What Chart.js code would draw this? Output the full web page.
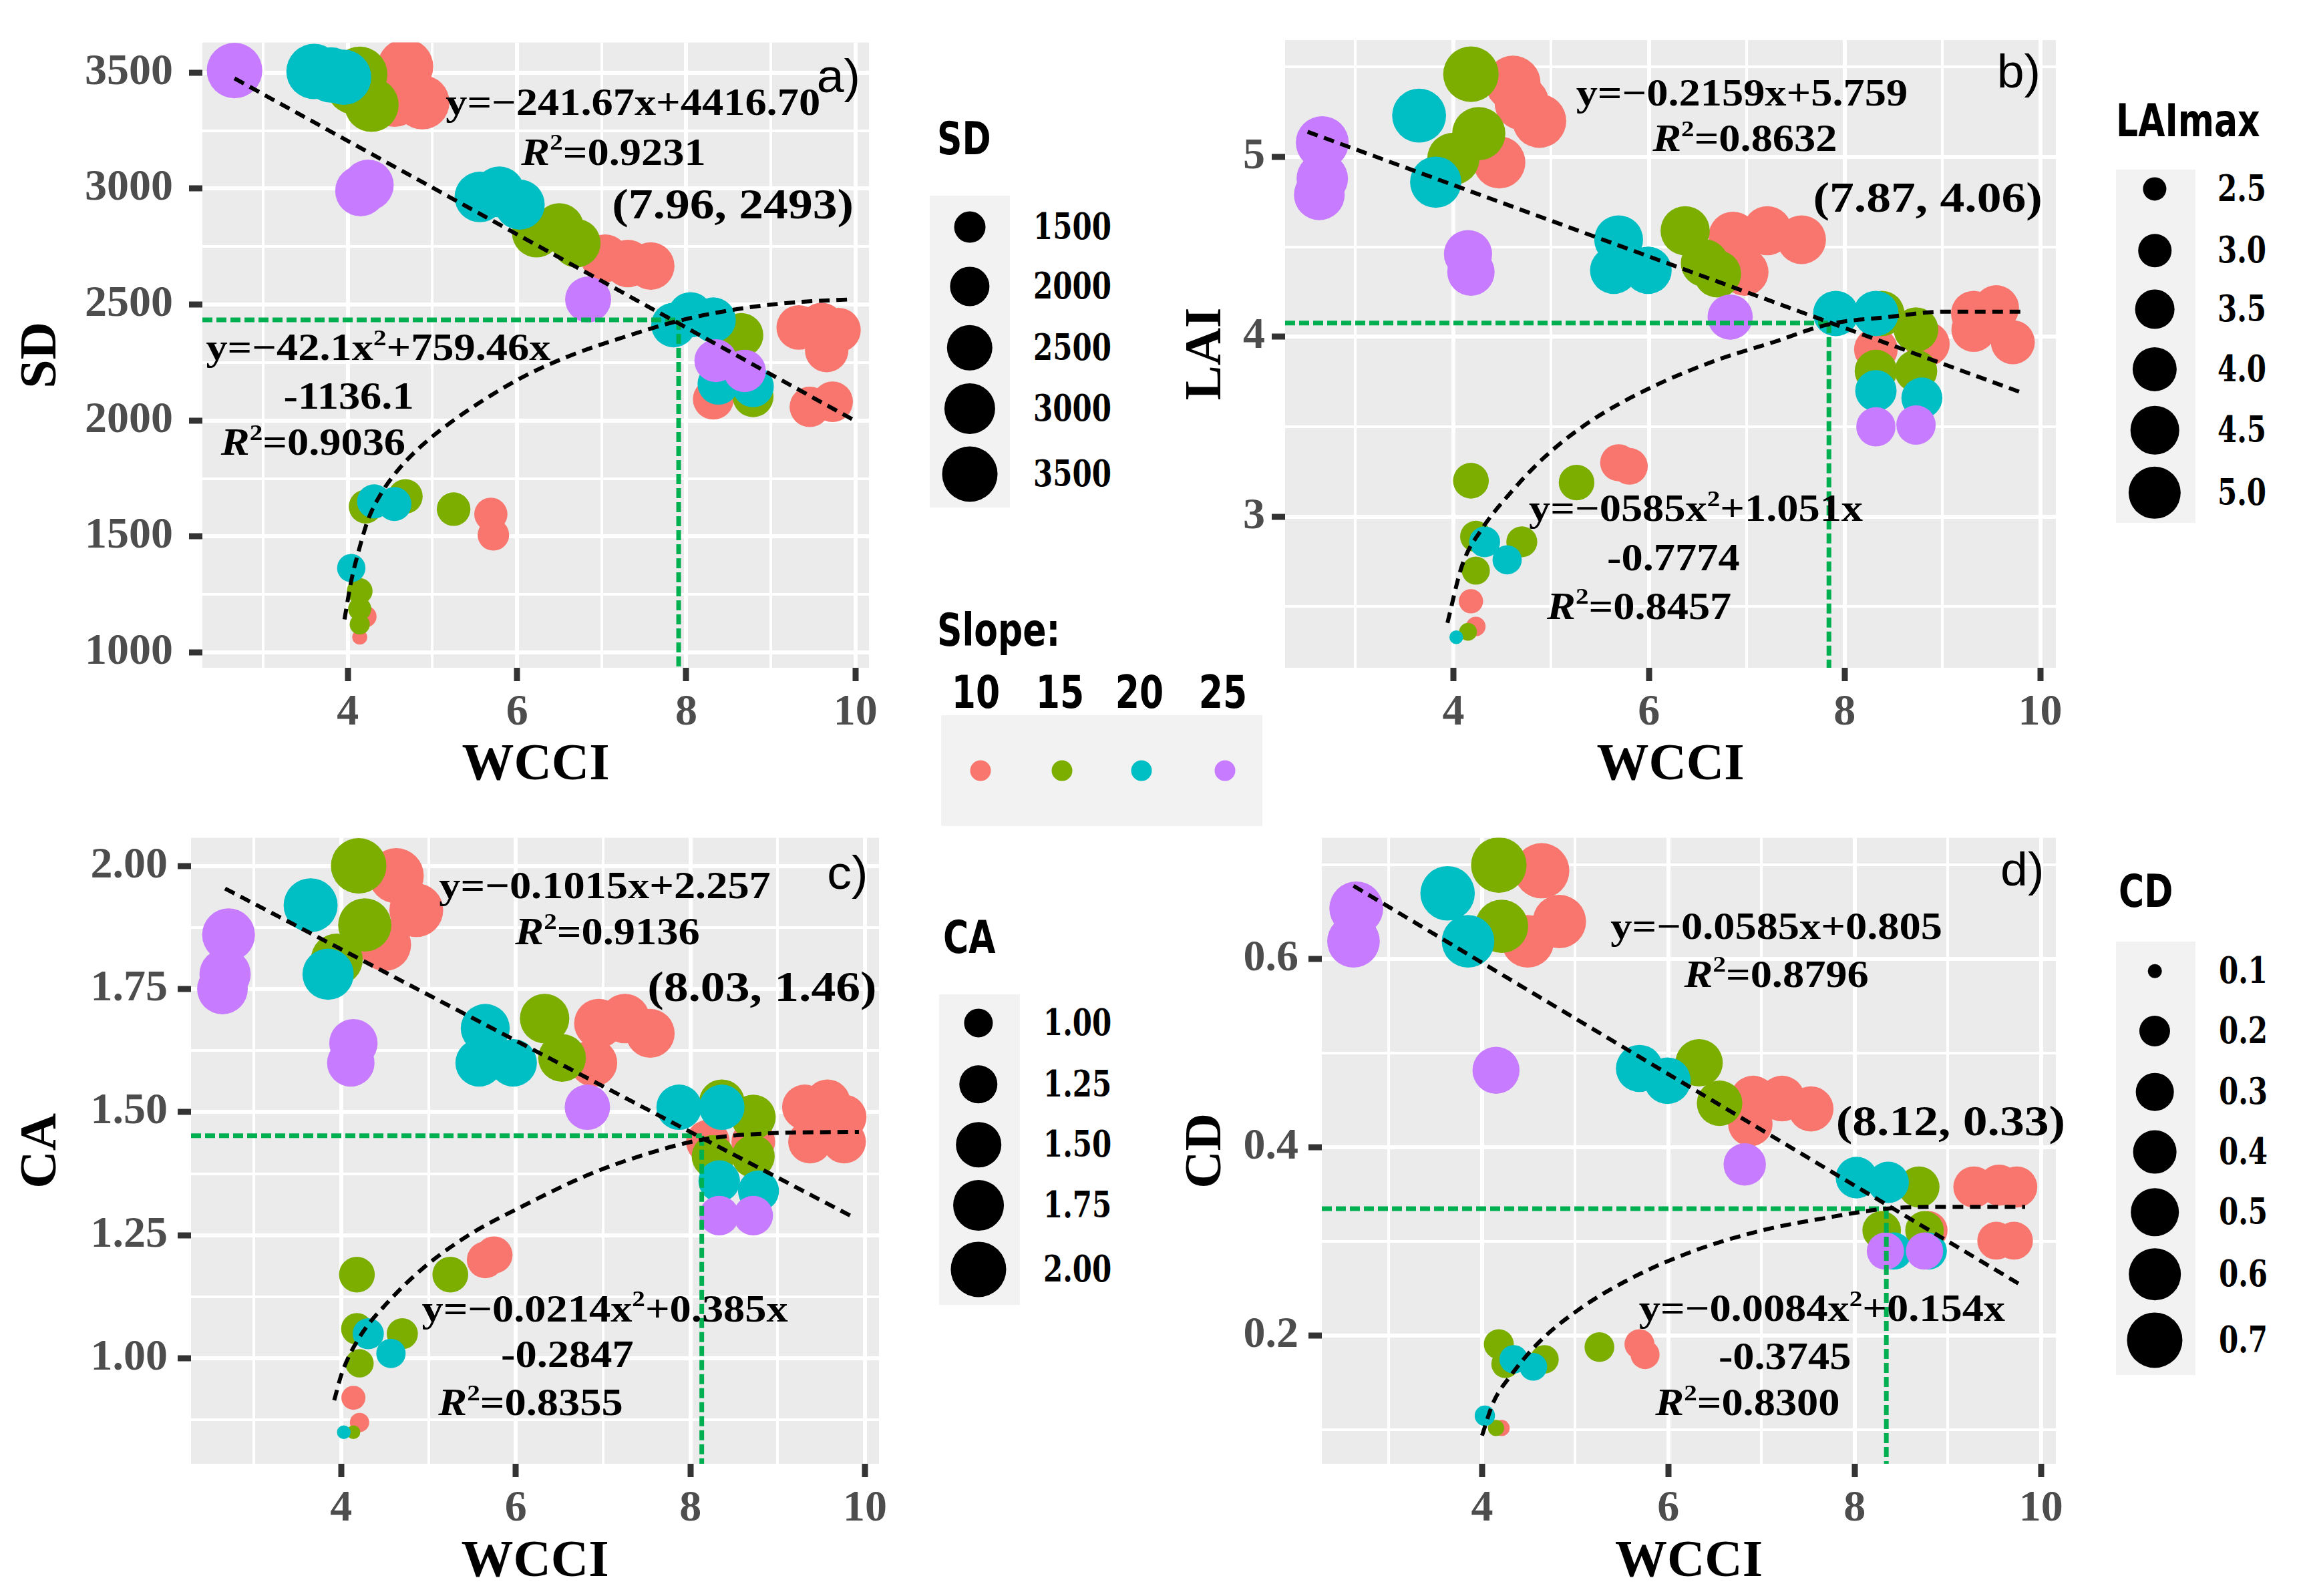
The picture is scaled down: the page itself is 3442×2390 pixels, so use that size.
<!DOCTYPE html>
<html>
<head>
<meta charset="utf-8">
<script src="https://cdn.jsdelivr.net/npm/chart.js@4.4.0/dist/chart.umd.min.js"></script>
<style>
  html, body { margin: 0; padding: 0; background: #fff; overflow: hidden; }
  #page { position: relative; width: 3442px; height: 2390px; overflow: hidden; background: #fff; }
  canvas { position: absolute; }
  .key { position: absolute; background: #F2F2F2; z-index: 4; }
  .dot { position: absolute; border-radius: 50%; z-index: 6; transform: translate(-50%, -50%); }
  .txt { position: absolute; z-index: 6; white-space: nowrap; line-height: 1; color: #000; font-weight: bold; }
  .ttl { font-family: 'DejaVu Sans'; font-size: 52px; }
  .lab { font-family: 'DejaVu Serif'; font-size: 42px; }
</style>
</head>
<body>
<div id="page">
  <canvas id="pa" width="1330" height="1200" style="left:0px;top:0px"></canvas>
  <canvas id="pb" width="1390" height="1200" style="left:1740px;top:0px"></canvas>
  <canvas id="pc" width="1340" height="1190" style="left:0px;top:1200px"></canvas>
  <canvas id="pd" width="1390" height="1190" style="left:1740px;top:1200px"></canvas>
</div>
<script>
// slope groups
const SLOPE_LABELS = ['10', '15', '20', '25'];
const SLOPE_COLORS = ['#F8766D', '#7CAE00', '#00BFC4', '#C77CFF'];

// x axis (WCCI), shared by all panels
const WCCI_MAJOR = [4, 6, 8, 10];
const WCCI_MINOR = [3, 5, 7, 9];
const WCCI_LABELS = ['4', '6', '8', '10'];

// a) SD
const sdX10 = [4.68, 4.88, 4.55, 7.04, 7.31, 7.58, 9.33, 9.60, 9.80, 9.66, 8.32, 9.46, 9.73, 5.69, 5.72, 4.21, 4.14];
const sdY10 = [3526, 3372, 3383, 2699, 2677, 2666, 2401, 2412, 2390, 2302, 2092, 2059, 2081, 1596, 1507, 1155, 1066];
const sdX15 = [4.07, 4.14, 4.28, 6.23, 6.50, 6.70, 8.65, 8.79, 4.21, 4.68, 5.25, 4.14, 4.14, 4.14];
const sdY15 = [3438, 3493, 3361, 2809, 2831, 2765, 2368, 2103, 1629, 1673, 1618, 1265, 1188, 1121];
const sdX20 = [3.60, 3.80, 3.95, 5.56, 5.79, 6.03, 7.85, 8.05, 8.32, 8.38, 8.79, 4.31, 4.55, 4.04];
const sdY20 = [3505, 3490, 3480, 2964, 2986, 2931, 2412, 2456, 2434, 2158, 2147, 1651, 1640, 1364];
const sdX25 = [2.66, 4.15, 4.24, 6.84, 8.35, 8.69];
const sdY25 = [3509, 2990, 3015, 2522, 2258, 2214];
const sdLineX = [2.66, 9.97];
const sdLineY = [3475, 2004];
const sdCurveX = [3.96, 4.04, 4.13, 4.24, 4.41, 4.61, 4.88, 5.22, 5.62, 6.09, 6.63, 7.24, 7.91, 8.65, 9.33, 9.93];
const sdCurveY = [1143, 1309, 1441, 1574, 1695, 1794, 1894, 1993, 2092, 2192, 2280, 2357, 2430, 2483, 2511, 2522];
const sdCross = [7.91, 2434];
const SD_MAJOR = [1000, 1500, 2000, 2500, 3000, 3500];
const SD_MINOR = [1250, 1750, 2250, 2750, 3250];
const SD_LABELS = ['1000', '1500', '2000', '2500', '3000', '3500'];
const SD_KEYS = [1500, 2000, 2500, 3000, 3500];
const SD_KEY_LABELS = ['1500', '2000', '2500', '3000', '3500'];

// b) LAI
const laiX10 = [4.61, 4.88, 4.47, 4.70, 6.86, 7.21, 7.56, 6.98, 9.32, 9.55, 9.72, 9.32, 8.32, 8.85, 5.69, 5.80, 4.18, 4.23];
const laiY10 = [5.41, 5.20, 4.97, 5.30, 4.56, 4.59, 4.54, 4.36, 4.13, 4.16, 3.97, 4.04, 3.93, 3.96, 3.30, 3.28, 2.53, 2.39];
const laiX15 = [4.18, 4.26, 4.00, 6.37, 6.57, 6.70, 8.38, 8.73, 8.32, 8.73, 4.18, 5.26, 4.23, 4.70, 4.23, 4.15];
const laiY15 = [5.46, 5.13, 4.99, 4.59, 4.41, 4.35, 4.13, 4.04, 3.81, 3.81, 3.20, 3.19, 2.89, 2.86, 2.70, 2.36];
const laiX20 = [3.65, 3.82, 5.69, 5.64, 5.99, 7.91, 8.32, 8.32, 8.79, 4.32, 4.55, 4.03];
const laiY20 = [5.23, 4.86, 4.54, 4.37, 4.37, 4.13, 4.13, 3.70, 3.66, 2.86, 2.76, 2.33];
const laiX25 = [2.66, 2.66, 2.63, 4.15, 4.18, 6.83, 8.32, 8.73];
const laiY25 = [5.08, 4.88, 4.79, 4.46, 4.36, 4.11, 3.50, 3.51];
const laiLineX = [2.51, 9.81];
const laiLineY = [5.14, 3.69];
const laiCurveX = [3.94, 4.09, 4.29, 4.58, 4.93, 5.40, 5.99, 6.69, 7.27, 7.84, 8.44, 9.02, 9.84];
const laiCurveY = [2.41, 2.73, 2.93, 3.13, 3.33, 3.53, 3.71, 3.87, 3.97, 4.07, 4.11, 4.14, 4.14];
const laiCross = [7.84, 4.077];
const LAI_MAJOR = [3, 4, 5];
const LAI_MINOR = [2.5, 3.5, 4.5, 5.5];
const LAI_LABELS = ['3', '4', '5'];
const LAI_KEYS = [2.5, 3.0, 3.5, 4.0, 4.5, 5.0];
const LAI_KEY_LABELS = ['2.5', '3.0', '3.5', '4.0', '4.5', '5.0'];

// c) CA
const caX10 = [4.63, 4.86, 4.50, 6.95, 7.25, 7.54, 6.89, 9.31, 9.57, 9.76, 9.76, 9.37, 8.20, 8.72, 5.75, 5.65, 4.14, 4.21];
const caY10 = [1.98, 1.91, 1.84, 1.68, 1.69, 1.66, 1.60, 1.51, 1.52, 1.49, 1.44, 1.44, 1.44, 1.44, 1.21, 1.20, 0.92, 0.87];
const caX15 = [4.20, 4.27, 3.95, 6.33, 6.53, 8.36, 8.72, 8.26, 8.72, 4.18, 5.25, 4.18, 4.70, 4.21, 4.14];
const caY15 = [2.00, 1.88, 1.81, 1.69, 1.61, 1.52, 1.49, 1.41, 1.41, 1.17, 1.17, 1.06, 1.05, 0.99, 0.85];
const caX20 = [3.65, 3.85, 5.65, 5.58, 5.97, 7.87, 8.36, 8.33, 8.78, 4.31, 4.57, 4.03];
const caY20 = [1.92, 1.78, 1.67, 1.60, 1.60, 1.51, 1.51, 1.36, 1.34, 1.05, 1.01, 0.85];
const caX25 = [2.71, 2.67, 2.64, 4.14, 4.11, 6.82, 8.33, 8.72];
const caY25 = [1.86, 1.78, 1.75, 1.64, 1.60, 1.51, 1.29, 1.29];
const caLineX = [2.67, 9.83];
const caLineY = [1.954, 1.29];
const caCurveX = [3.92, 4.01, 4.21, 4.54, 4.93, 5.45, 6.10, 6.82, 7.48, 8.13, 8.92, 9.93];
const caCurveY = [0.915, 0.971, 1.043, 1.115, 1.182, 1.249, 1.311, 1.372, 1.414, 1.444, 1.457, 1.460];
const caCross = [8.13, 1.452];
const CA_MAJOR = [1.00, 1.25, 1.50, 1.75, 2.00];
const CA_MINOR = [0.875, 1.125, 1.375, 1.625, 1.875];
const CA_LABELS = ['1.00', '1.25', '1.50', '1.75', '2.00'];
const CA_KEYS = [1.00, 1.25, 1.50, 1.75, 2.00];
const CA_KEY_LABELS = ['1.00', '1.25', '1.50', '1.75', '2.00'];

// d) CD
const cdX10 = [4.64, 4.83, 4.49, 6.91, 7.22, 7.53, 6.88, 9.28, 9.55, 9.74, 9.52, 9.71, 8.79, 5.69, 5.75, 4.21];
const cdY10 = [0.694, 0.640, 0.619, 0.452, 0.452, 0.441, 0.425, 0.358, 0.360, 0.358, 0.301, 0.301, 0.312, 0.191, 0.180, 0.102];
const cdX15 = [4.18, 4.21, 6.33, 6.55, 8.69, 8.29, 8.75, 4.18, 5.26, 4.67, 4.25, 4.15];
const cdY15 = [0.700, 0.635, 0.490, 0.447, 0.358, 0.312, 0.312, 0.191, 0.188, 0.175, 0.170, 0.102];
const cdX20 = [3.63, 3.85, 5.69, 5.99, 8.02, 8.36, 8.42, 8.79, 4.34, 4.55, 4.03];
const cdY20 = [0.670, 0.619, 0.484, 0.471, 0.368, 0.363, 0.290, 0.290, 0.175, 0.167, 0.115];
const cdX25 = [2.65, 2.62, 4.15, 6.82, 8.33, 8.75];
const cdY25 = [0.654, 0.619, 0.482, 0.382, 0.290, 0.290];
const cdLineX = [2.62, 9.80];
const cdLineY = [0.678, 0.253];
const cdCurveX = [4.00, 4.12, 4.31, 4.61, 5.04, 5.60, 6.27, 7.01, 7.68, 8.34, 8.97, 9.83];
const cdCurveY = [0.094, 0.129, 0.158, 0.193, 0.228, 0.261, 0.290, 0.312, 0.325, 0.335, 0.337, 0.337];
const cdCross = [8.34, 0.335];
const CD_MAJOR = [0.2, 0.4, 0.6];
const CD_MINOR = [0.1, 0.3, 0.5, 0.7];
const CD_LABELS = ['0.2', '0.4', '0.6'];
const CD_KEYS = [0.1, 0.2, 0.3, 0.4, 0.5, 0.6, 0.7];
const CD_KEY_LABELS = ['0.1', '0.2', '0.3', '0.4', '0.5', '0.6', '0.7'];

// size scale like ggplot's area scale: diameter in px
function diam(v, range) {
  const t = Math.max(0, (v - range[0]) / (range[1] - range[0]));
  return 20.6 + 62.5 * Math.sqrt(t);
}

const NOTE_FONTS = {
  eq:  { family: '"Liberation Serif"', weight: 'bold', size: 56, stretch: 1.15 },
  pt:  { family: '"Liberation Serif"', weight: 'bold', size: 64, stretch: 1.15 },
  tag: { family: '"Liberation Sans"', weight: 'normal', size: 70, stretch: 1.05 }
};

const PANELS = [
  { id: 'pa', pad: { top: 60, right: 29 }, yw: 303, xh: 200, tickPad: 24, yTitlePad: 16, xTitlePad: 6,
    ymin: 934, ymax: 3630, yTitle: 'SD', yMajor: SD_MAJOR, yMinor: SD_MINOR, yLabels: SD_LABELS,
    xs: [sdX10, sdX15, sdX20, sdX25], ys: [sdY10, sdY15, sdY20, sdY25], size: [1064, 3510],
    lineX: sdLineX, lineY: sdLineY, curveX: sdCurveX, curveY: sdCurveY, cross: sdCross,
    notes: [
      { text: 'y=−241.67x+4416.70', x: 7.37, y: 3361, kind: 'eq' },
      { text: 'R^2=0.9231', x: 7.14, y: 3145, kind: 'eq' },
      { text: '(7.96, 2493)', x: 8.55, y: 2920, kind: 'pt' },
      { text: 'a)', x: 9.80, y: 3471, kind: 'tag' },
      { text: 'y=−42.1x^2+759.46x', x: 4.36, y: 2302, kind: 'eq' },
      { text: '-1136.1', x: 4.01, y: 2092, kind: 'eq' },
      { text: 'R^2=0.9036', x: 3.59, y: 1894, kind: 'eq' }
    ] },
  { id: 'pb', pad: { top: 60, right: 52 }, yw: 184, xh: 200, tickPad: 10, yTitlePad: 20, xTitlePad: 6,
    ymin: 2.16, ymax: 5.65, yTitle: 'LAI', yMajor: LAI_MAJOR, yMinor: LAI_MINOR, yLabels: LAI_LABELS,
    xs: [laiX10, laiX15, laiX20, laiX25], ys: [laiY10, laiY15, laiY20, laiY25], size: [2.33, 5.46],
    lineX: laiLineX, lineY: laiLineY, curveX: laiCurveX, curveY: laiCurveY, cross: laiCross,
    notes: [
      { text: 'y=−0.2159x+5.759', x: 6.95, y: 5.34, kind: 'eq' },
      { text: 'R^2=0.8632', x: 6.98, y: 5.086, kind: 'eq' },
      { text: '(7.87, 4.06)', x: 8.85, y: 4.757, kind: 'pt' },
      { text: 'b)', x: 9.78, y: 5.457, kind: 'tag' },
      { text: 'y=−0585x^2+1.051x', x: 6.48, y: 3.03, kind: 'eq' },
      { text: '-0.7774', x: 6.25, y: 2.757, kind: 'eq' },
      { text: 'R^2=0.8457', x: 5.90, y: 2.486, kind: 'eq' }
    ] },
  { id: 'pc', pad: { top: 50, right: 24 }, yw: 286, xh: 198, tickPad: 15, yTitlePad: 16, xTitlePad: 3,
    ymin: 0.786, ymax: 2.057, yTitle: 'CA', yMajor: CA_MAJOR, yMinor: CA_MINOR, yLabels: CA_LABELS,
    xs: [caX10, caX15, caX20, caX25], ys: [caY10, caY15, caY20, caY25], size: [0.85, 2.00],
    lineX: caLineX, lineY: caLineY, curveX: caCurveX, curveY: caCurveY, cross: caCross,
    notes: [
      { text: 'y=−0.1015x+2.257', x: 7.02, y: 1.954, kind: 'eq' },
      { text: 'R^2=0.9136', x: 7.05, y: 1.861, kind: 'eq' },
      { text: '(8.03, 1.46)', x: 8.82, y: 1.748, kind: 'pt' },
      { text: 'c)', x: 9.80, y: 1.979, kind: 'tag' },
      { text: 'y=−0.0214x^2+0.385x', x: 7.02, y: 1.095, kind: 'eq' },
      { text: '-0.2847', x: 6.59, y: 1.002, kind: 'eq' },
      { text: 'R^2=0.8355', x: 6.17, y: 0.904, kind: 'eq' }
    ] },
  { id: 'pd', pad: { top: 50, right: 52 }, yw: 239, xh: 198, tickPad: 15, yTitlePad: 20, xTitlePad: 3,
    ymin: 0.064, ymax: 0.729, yTitle: 'CD', yMajor: CD_MAJOR, yMinor: CD_MINOR, yLabels: CD_LABELS,
    xs: [cdX10, cdX15, cdX20, cdX25], ys: [cdY10, cdY15, cdY20, cdY25], size: [0.10, 0.70],
    lineX: cdLineX, lineY: cdLineY, curveX: cdCurveX, curveY: cdCurveY, cross: cdCross,
    notes: [
      { text: 'y=−0.0585x+0.805', x: 7.16, y: 0.632, kind: 'eq' },
      { text: 'R^2=0.8796', x: 7.16, y: 0.581, kind: 'eq' },
      { text: '(8.12, 0.33)', x: 9.03, y: 0.425, kind: 'pt' },
      { text: 'd)', x: 9.80, y: 0.692, kind: 'tag' },
      { text: 'y=−0.0084x^2+0.154x', x: 7.65, y: 0.226, kind: 'eq' },
      { text: '-0.3745', x: 7.25, y: 0.175, kind: 'eq' },
      { text: 'R^2=0.8300', x: 6.85, y: 0.126, kind: 'eq' }
    ] }
];

// '^' makes the next char a superscript, 'R' is set in italics
function drawRich(ctx, text, cx, cy, f) {
  const segs = [];
  for (let i = 0; i < text.length; i++) {
    const ch = text[i];
    if (ch === '^') { segs.push({ t: text[++i], sup: true, it: false }); continue; }
    const it = ch === 'R';
    const last = segs[segs.length - 1];
    if (last && !last.sup && last.it === it) last.t += ch;
    else segs.push({ t: ch, it: it, sup: false });
  }
  const fontOf = s => (s.it ? 'italic ' : '') + f.weight + ' ' + (s.sup ? Math.round(f.size * 0.6) : f.size) + 'px ' + f.family;
  ctx.save();
  ctx.translate(cx, cy);
  ctx.scale(f.stretch, 1);
  ctx.textBaseline = 'middle';
  ctx.fillStyle = '#000';
  let total = 0;
  segs.forEach(s => { ctx.font = fontOf(s); s.w = ctx.measureText(s.t).width; total += s.w; });
  let px = -total / 2;
  segs.forEach(s => {
    ctx.font = fontOf(s);
    ctx.fillText(s.t, px, s.sup ? -f.size * 0.3 : 0);
    px += s.w;
  });
  ctx.restore();
}

const panelDeco = {
  id: 'panelDeco',
  beforeDraw(chart) {
    const { ctx, chartArea: a } = chart;
    ctx.save();
    ctx.fillStyle = '#EBEBEB';
    ctx.fillRect(a.left, a.top, a.right - a.left, a.bottom - a.top);
    ctx.restore();
  },
  afterDatasetsDraw(chart, args, opts) {
    const { ctx, scales: { x, y } } = chart;
    (opts.notes || []).forEach(n => {
      drawRich(ctx, n.text, x.getPixelForValue(n.x), y.getPixelForValue(n.y), NOTE_FONTS[n.kind]);
    });
  }
};

function axis(o) {
  const all = o.major.concat(o.minor).sort((a, b) => a - b);
  const majorIdx = v => o.major.findIndex(m => Math.abs(m - v) < 1e-9);
  const isMajor = c => c.tick && majorIdx(c.tick.value) >= 0;
  return {
    type: 'linear',
    position: o.position,
    min: o.min,
    max: o.max,
    afterBuildTicks: ax => { ax.ticks = all.map(v => ({ value: v })); },
    afterFit: ax => { if (o.position === 'left') ax.width = o.size; else ax.height = o.size; },
    border: { display: false },
    grid: {
      color: '#FFFFFF',
      lineWidth: c => isMajor(c) ? 6 : 4,
      tickColor: c => isMajor(c) ? '#333333' : 'rgba(0,0,0,0)',
      tickWidth: 9,
      tickLength: 20,
      drawTicks: true
    },
    ticks: {
      autoSkip: false,
      maxRotation: 0,
      padding: o.tickPad,
      color: '#4D4D4D',
      font: { family: 'Liberation Serif', size: 66, weight: 'bold' },
      callback: v => { const i = majorIdx(v); return i < 0 ? '' : o.labels[i]; }
    },
    title: {
      display: true,
      text: o.title,
      color: '#000000',
      font: { family: 'Liberation Serif', size: 78, weight: 'bold' },
      padding: o.position === 'left' ? { top: o.titlePad, bottom: 0 } : { top: 0, bottom: o.titlePad }
    }
  };
}

const pts = (xs, ys) => xs.map((x, i) => ({ x: x, y: ys[i] }));
const XMIN = 2.28, XMAX = 10.16;

PANELS.forEach(p => {
  const datasets = [];
  // trend lines on top
  datasets.push({ type: 'line', data: pts(p.lineX, p.lineY), borderColor: '#000000', borderWidth: 6,
    borderDash: [16, 10], pointRadius: 0, fill: false, tension: 0, order: 0 });
  datasets.push({ type: 'line', data: pts(p.curveX, p.curveY), borderColor: '#000000', borderWidth: 6,
    borderDash: [16, 10], pointRadius: 0, fill: false, cubicInterpolationMode: 'monotone', order: 0 });
  // green guide lines to the crossing point
  datasets.push({ type: 'line', data: pts([XMIN, p.cross[0]], [p.cross[1], p.cross[1]]), borderColor: '#00B050',
    borderWidth: 7, borderDash: [15, 6], pointRadius: 0, fill: false, order: 1 });
  datasets.push({ type: 'line', data: pts([p.cross[0], p.cross[0]], [p.cross[1], p.ymin]), borderColor: '#00B050',
    borderWidth: 7, borderDash: [15, 6], pointRadius: 0, fill: false, order: 1 });
  p.xs.forEach((xs, k) => {
    datasets.push({
      type: 'bubble',
      label: SLOPE_LABELS[k],
      data: xs.map((x, i) => ({ x: x, y: p.ys[k][i], r: diam(p.ys[k][i], p.size) / 2 })),
      backgroundColor: SLOPE_COLORS[k],
      borderWidth: 0,
      order: 5 - k
    });
  });

  new Chart(document.getElementById(p.id), {
    type: 'bubble',
    data: { datasets: datasets },
    options: {
      responsive: false,
      animation: false,
      devicePixelRatio: 1,
      events: [],
      layout: { padding: { left: 0, top: p.pad.top, right: p.pad.right, bottom: 0 }, autoPadding: false },
      plugins: { legend: { display: false }, tooltip: { enabled: false }, panelDeco: { notes: p.notes } },
      scales: {
        x: axis({ position: 'bottom', min: XMIN, max: XMAX, major: WCCI_MAJOR, minor: WCCI_MINOR, labels: WCCI_LABELS,
          size: p.xh, tickPad: 8, title: 'WCCI', titlePad: p.xTitlePad }),
        y: axis({ position: 'left', min: p.ymin, max: p.ymax, major: p.yMajor, minor: p.yMinor, labels: p.yLabels,
          size: p.yw, tickPad: p.tickPad, title: p.yTitle, titlePad: p.yTitlePad })
      }
    },
    plugins: [panelDeco]
  });
});

// ---- legends (html) ----
const page = document.getElementById('page');
function el(cls, css, text) {
  const d = document.createElement('div');
  d.className = cls;
  Object.assign(d.style, css);
  if (text !== undefined) d.textContent = text;
  page.appendChild(d);
  return d;
}
function txt(cls, text, x, y, center) {
  el('txt ' + cls, { left: x + 'px', top: y + 'px',
    transform: (center ? 'translate(-50%, -50%)' : 'translateY(-50%)') + ' scaleY(1.3)' }, text);
}

const SIZE_LEGENDS = [
  { title: 'SD', keys: SD_KEYS, labels: SD_KEY_LABELS, range: [1064, 3510],
    titleXY: [1403, 208], box: [1392, 293, 120, 467], cx: 1452, cy: [340, 429, 521, 612, 710], lx: 1547 },
  { title: 'LAImax', keys: LAI_KEYS, labels: LAI_KEY_LABELS, range: [2.33, 5.46],
    titleXY: [3168, 181], box: [3168, 254, 119, 529], cx: 3226, cy: [283, 375, 463, 553, 644, 738], lx: 3320 },
  { title: 'CA', keys: CA_KEYS, labels: CA_KEY_LABELS, range: [0.85, 2.00],
    titleXY: [1412, 1404], box: [1406, 1489, 121, 465], cx: 1465, cy: [1532, 1624, 1714, 1805, 1901], lx: 1562 },
  { title: 'CD', keys: CD_KEYS, labels: CD_KEY_LABELS, range: [0.10, 0.70],
    titleXY: [3172, 1335], box: [3168, 1410, 119, 649], cx: 3226, cy: [1454, 1544, 1635, 1725, 1815, 1908, 2007], lx: 3322 }
];

SIZE_LEGENDS.forEach(L => {
  txt('ttl', L.title, L.titleXY[0], L.titleXY[1], false);
  el('key', { left: L.box[0] + 'px', top: L.box[1] + 'px', width: L.box[2] + 'px', height: L.box[3] + 'px' });
  L.keys.forEach((v, i) => {
    const d = diam(v, L.range);
    el('dot', { left: L.cx + 'px', top: L.cy[i] + 'px', width: d + 'px', height: d + 'px', background: '#000' });
    txt('lab', L.labels[i], L.lx, L.cy[i], false);
  });
});

// slope colour legend
txt('ttl', 'Slope:', 1403, 944, false);
el('key', { left: '1409px', top: '1071px', width: '481px', height: '166px' });
const SLOPE_TEXT_X = [1461, 1587, 1706, 1831];
const SLOPE_DOT_X = [1468, 1590, 1709, 1834];
SLOPE_LABELS.forEach((s, i) => {
  txt('ttl', s, SLOPE_TEXT_X[i], 1037, true);
  el('dot', { left: SLOPE_DOT_X[i] + 'px', top: '1154px', width: '31px', height: '31px', background: SLOPE_COLORS[i] });
});
</script>
</body>
</html>
